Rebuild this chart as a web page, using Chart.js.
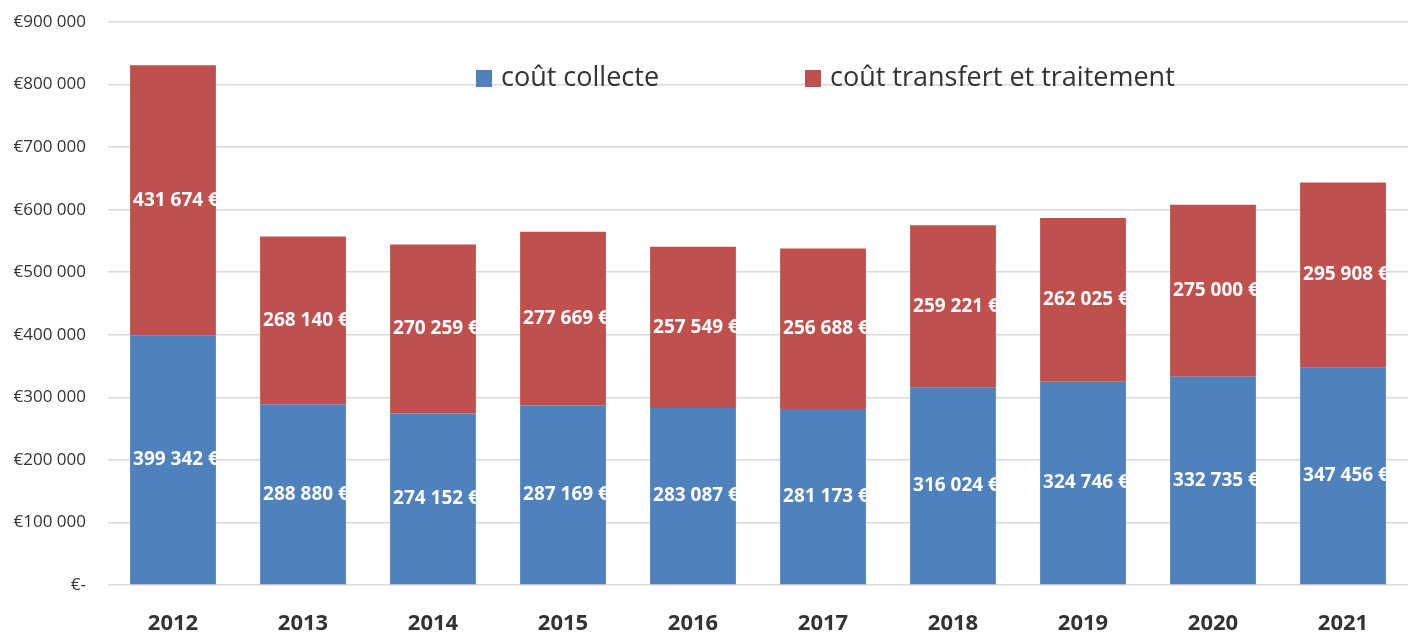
<!DOCTYPE html>
<html>
<head>
<meta charset="utf-8">
<script src="https://cdn.jsdelivr.net/npm/chart.js@4"></script>
<style>
  html, body { margin: 0; padding: 0; background: #fff; }
  #wrap { width: 1408px; height: 632px; }
</style>
</head>
<body>
<div id="wrap"><canvas id="myChart" width="1408" height="632"></canvas></div>
<script>
// données
const years = ['2012', '2013', '2014', '2015', '2016', '2017', '2018', '2019', '2020', '2021'];
const coutCollecte = [399342, 288880, 274152, 287169, 283087, 281173, 316024, 324746, 332735, 347456];
const coutTransfert = [431674, 268140, 270259, 277669, 257549, 256688, 259221, 262025, 275000, 295908];
const yTicks = [0, 100000, 200000, 300000, 400000, 500000, 600000, 700000, 800000, 900000];

const FONT = "'Open Sans', 'Noto Sans', sans-serif";

const fmt = v => String(Math.round(v)).replace(/\B(?=(\d{3})+(?!\d))/g, ' ');

// étiquettes blanches au centre de chaque segment (coupées au bord de la barre)
const labelsPlugin = {
  id: 'segLabels',
  afterDatasetsDraw(chart) {
    const ctx = chart.ctx;
    chart.data.datasets.forEach((ds, i) => {
      chart.getDatasetMeta(i).data.forEach((bar, j) => {
        const p = bar.getProps(['x', 'y', 'base', 'width'], true);
        ctx.save();
        ctx.beginPath();
        ctx.rect(p.x - p.width / 2, p.y, p.width, p.base - p.y);
        ctx.clip();
        ctx.font = 'bold 19px ' + FONT;
        ctx.fillStyle = '#ffffff';
        ctx.textAlign = 'center';
        ctx.textBaseline = 'middle';
        ctx.fillText(fmt(ds.data[j]) + ' €', p.x + 3, (p.y + p.base) / 2);
        ctx.restore();
      });
    });
  }
};

// légende dessinée dans la zone du graphique
const legendPlugin = {
  id: 'innerLegend',
  afterDraw(chart) {
    const ctx = chart.ctx;
    const positions = [476, 805];
    ctx.save();
    ctx.font = '27px ' + FONT;
    ctx.textBaseline = 'middle';
    chart.data.datasets.forEach((ds, i) => {
      const x = positions[i];
      const y = 78;
      ctx.fillStyle = ds.backgroundColor;
      ctx.fillRect(x, y - 8, 16, 17);
      ctx.fillStyle = '#333333';
      ctx.fillText(ds.label, x + 25, y);
    });
    ctx.restore();
  }
};

new Chart(document.getElementById('myChart').getContext('2d'), {
  type: 'bar',
  data: {
    labels: years,
    datasets: [
      { label: 'coût collecte', data: coutCollecte, backgroundColor: '#4F81BD' },
      { label: 'coût transfert et traitement', data: coutTransfert, backgroundColor: '#C0504D' }
    ]
  },
  options: {
    responsive: false,
    animation: false,
    layout: { padding: { top: 22, right: 0, left: 0, bottom: 0 } },
    datasets: { bar: { categoryPercentage: 0.66, barPercentage: 1 } },
    plugins: { legend: { display: false }, tooltip: { enabled: false } },
    scales: {
      x: {
        stacked: true,
        grid: { display: false },
        border: { display: false },
        ticks: { color: '#333333', font: { family: FONT, size: 22, weight: 'bold' }, padding: 18 },
        afterFit(s) { s.height = 47; s.paddingLeft = 0; s.paddingRight = 0; }
      },
      y: {
        stacked: true,
        min: 0,
        max: 900000,
        afterBuildTicks(s) { s.ticks = yTicks.map(v => ({ value: v })); },
        grid: { color: '#d9d9d9', lineWidth: 1.5, drawTicks: false },
        border: { display: false },
        ticks: {
          color: '#333333',
          font: { family: FONT, size: 17 },
          padding: 22,
          callback: v => v === 0 ? '€-' : '€' + fmt(v)
        },
        afterFit(s) { s.width = 108; s.paddingTop = 0; s.paddingBottom = 0; }
      }
    }
  },
  plugins: [labelsPlugin, legendPlugin]
});
</script>
</body>
</html>
